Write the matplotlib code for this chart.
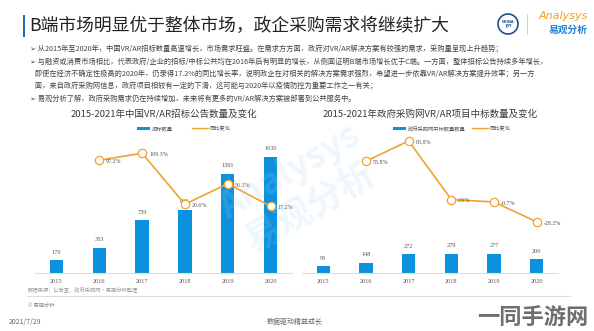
import numpy as np
import matplotlib
matplotlib.use('Agg')
import matplotlib.pyplot as plt
from matplotlib.patches import Ellipse, Rectangle
from matplotlib.lines import Line2D

plt.rcParams['font.family'] = ['Noto Sans CJK SC', 'DejaVu Sans']

# data
years = ['2015', '2016', '2017', '2018', '2019', '2020']
tender_counts = [179, 353, 739, 890, 1391, 1630]
tender_yoy = [None, 97.2, 109.3, 20.6, 56.3, 17.2]
gov_counts = [95, 148, 272, 279, 277, 200]
gov_yoy = [None, 55.8, 83.8, 2.6, -0.7, -28.2]

title = 'B端市场明显优于整体市场，政企采购需求将继续扩大'
bullets = [
    '➢ 从2015年至2020年，中国VR/AR招标数量高速增长，市场需求旺盛。在需求方方面，政府对VR/AR解决方案有较强的需求，采购量呈现上升趋势；',
    '➢ 与融资或消费市场相比，代表政府/企业的招标/中标公共均在2016年后有明显的增长，从侧面证明B端市场增长优于C端。一方面，整体招标公告持续多年增长，',
    '   即使在经济不确定性极高的2020年，仍录得17.2%的同比增长率，说明政企在对相关的解决方案需求强烈，希望进一步依靠VR/AR解决方案提升效率；另一方',
    '   面，来自政府采购网信息，政府项目相较有一定的下滑，这可能与2020年以疫情防控为重要工作之一有关；',
    '➢ 易观分析了解，政府采购需求仍在持续增加，未来将有更多的VR/AR解决方案被部署到公共服务中。',
]

W, H = 594, 331
BLUE = '#0c91de'
ORANGE = '#f0a330'

fig = plt.figure(figsize=(W / 100, H / 100), dpi=100)
fig.patch.set_facecolor('white')


def fx(x):
    return x / W


def fy(y):
    return 1 - y / H


# header
fig.add_artist(Rectangle((fx(23), fy(37)), 2 / W, 22 / H, color='#1f6fb5', lw=0))
fig.text(fx(29), fy(26), title, fontsize=12.8, color='#222222', va='center', ha='left')
fig.add_artist(Ellipse((fx(508), fy(24)), 20 / W, 20 / H, fill=False, ec='#1f4e8c', lw=1.2))
fig.text(fx(508), fy(24), 'CHINA\nJOY', fontsize=2.5, color='#1f4e8c', ha='center', va='center',
         family='DejaVu Sans', fontweight='bold', linespacing=0.9)
fig.add_artist(Line2D([fx(527), fx(527)], [fy(14), fy(34)], color='#cccccc', lw=0.6))
fig.text(fx(563), fy(16), 'Analysys', fontsize=8, color='#f0a020', ha='center', va='center',
         style='italic', family='DejaVu Sans')
fig.text(fx(568), fy(30), '易观分析', fontsize=7, color='#1f7fd0', ha='center', va='center',
         fontweight='bold')

# bullet text
for s, yy in zip(bullets, [49, 62, 74, 86, 99]):
    fig.text(fx(30), fy(yy), s, fontsize=5.2, color='#444444', va='center', ha='left')

# faint watermark
fig.text(fx(300), fy(190), 'Analysys\n易观分析', fontsize=26, color='#9fd3ee', alpha=0.18,
         ha='center', va='center', rotation=30, fontweight='bold')


def draw_panel(left, right, counts, yoy, ymax, y2lim, ctitle):
    ax = fig.add_axes([fx(left), fy(273), (right - left) / W, 138 / H])
    x = np.arange(len(years))
    ax.bar(x, counts, width=0.31, color=BLUE, zorder=2)
    ax.set_xlim(-0.5, 5.5)
    ax.set_ylim(0, ymax)
    for s in ['top', 'right', 'left']:
        ax.spines[s].set_visible(False)
    ax.spines['bottom'].set_color('#dddddd')
    ax.spines['bottom'].set_linewidth(0.8)
    ax.set_yticks([])
    ax.set_xticks(x)
    ax.set_xticklabels(years, fontsize=4.5, color='#555555', family='Liberation Serif')
    ax.tick_params(axis='x', length=0, pad=4)
    for xi, v in zip(x, counts):
        ax.annotate(str(v), (xi, v), xytext=(0, 4), textcoords='offset points',
                    ha='center', va='bottom', fontsize=4.5, color='#555555',
                    family='Liberation Serif')
    ax.patch.set_alpha(0)

    ax2 = ax.twinx()
    xs = [xi for xi, v in zip(x, yoy) if v is not None]
    vs = [v for v in yoy if v is not None]
    ax2.plot(xs, vs, color=ORANGE, lw=1.2, marker='o', markersize=6,
             markerfacecolor='white', markeredgecolor=ORANGE, markeredgewidth=0.9, zorder=3)
    ax2.set_ylim(*y2lim)
    ax2.set_xlim(-0.5, 5.5)
    ax2.axis('off')
    for xi, v in zip(xs, vs):
        ax2.annotate(f'{v}%', (xi, v), xytext=(5, -1), textcoords='offset points',
                     ha='left', va='center', fontsize=4.3, color='#555555',
                     family='Liberation Serif')

    cx = (left + right) / 2
    fig.text(fx(cx), fy(114), ctitle, fontsize=6.8, color='#3a3a3a', ha='center', va='center')
    return ax


draw_panel(35, 292, tender_counts, tender_yoy, 1940, (-99, 141),
           '2015-2021年中国VR/AR招标公告数量及变化')
draw_panel(302, 558, gov_counts, gov_yoy, 2000, (-99, 92),
           '2015-2021年政府采购网VR/AR项目中标数量及变化')


# legends drawn by hand in figure coordinates
def legend(x0, label1, x1):
    fig.add_artist(Rectangle((fx(x0), fy(130)), 13 / W, 3 / H, color=BLUE, lw=0))
    fig.text(fx(x0 + 15), fy(128.5), label1, fontsize=3.8, color='#555555', va='center')
    fig.add_artist(Line2D([fx(x1), fx(x1 + 16)], [fy(128.5), fy(128.5)], color=ORANGE, lw=1))
    fig.text(fx(x1 + 18), fy(128.5), '同比变化', fontsize=3.8, color='#555555', va='center')


legend(137, '招标数量', 192)
legend(393, '政府采购网中标数量数量', 472)

# footer
fig.text(fx(28), fy(290), '数据来源：公告查，政府采购网・易观分析整理', fontsize=3.8, color='#999999', va='center')
fig.add_artist(Line2D([fx(27), fx(570)], [fy(296), fy(296)], color='#dddddd', lw=0.8))
fig.text(fx(28), fy(305), '© 易观分析', fontsize=3.8, color='#888888', va='center')
fig.text(fx(9), fy(322), '2021/7/29', fontsize=5, color='#666666', va='center')
fig.text(fx(295), fy(322), '数据驱动精益成长', fontsize=5, color='#666666', va='center', ha='center')
fig.text(fx(588), fy(318), '一同手游网', fontsize=16, color='#555555', va='center', ha='right',
         fontweight='bold', alpha=0.85)

fig.savefig('out.png', dpi=100)
